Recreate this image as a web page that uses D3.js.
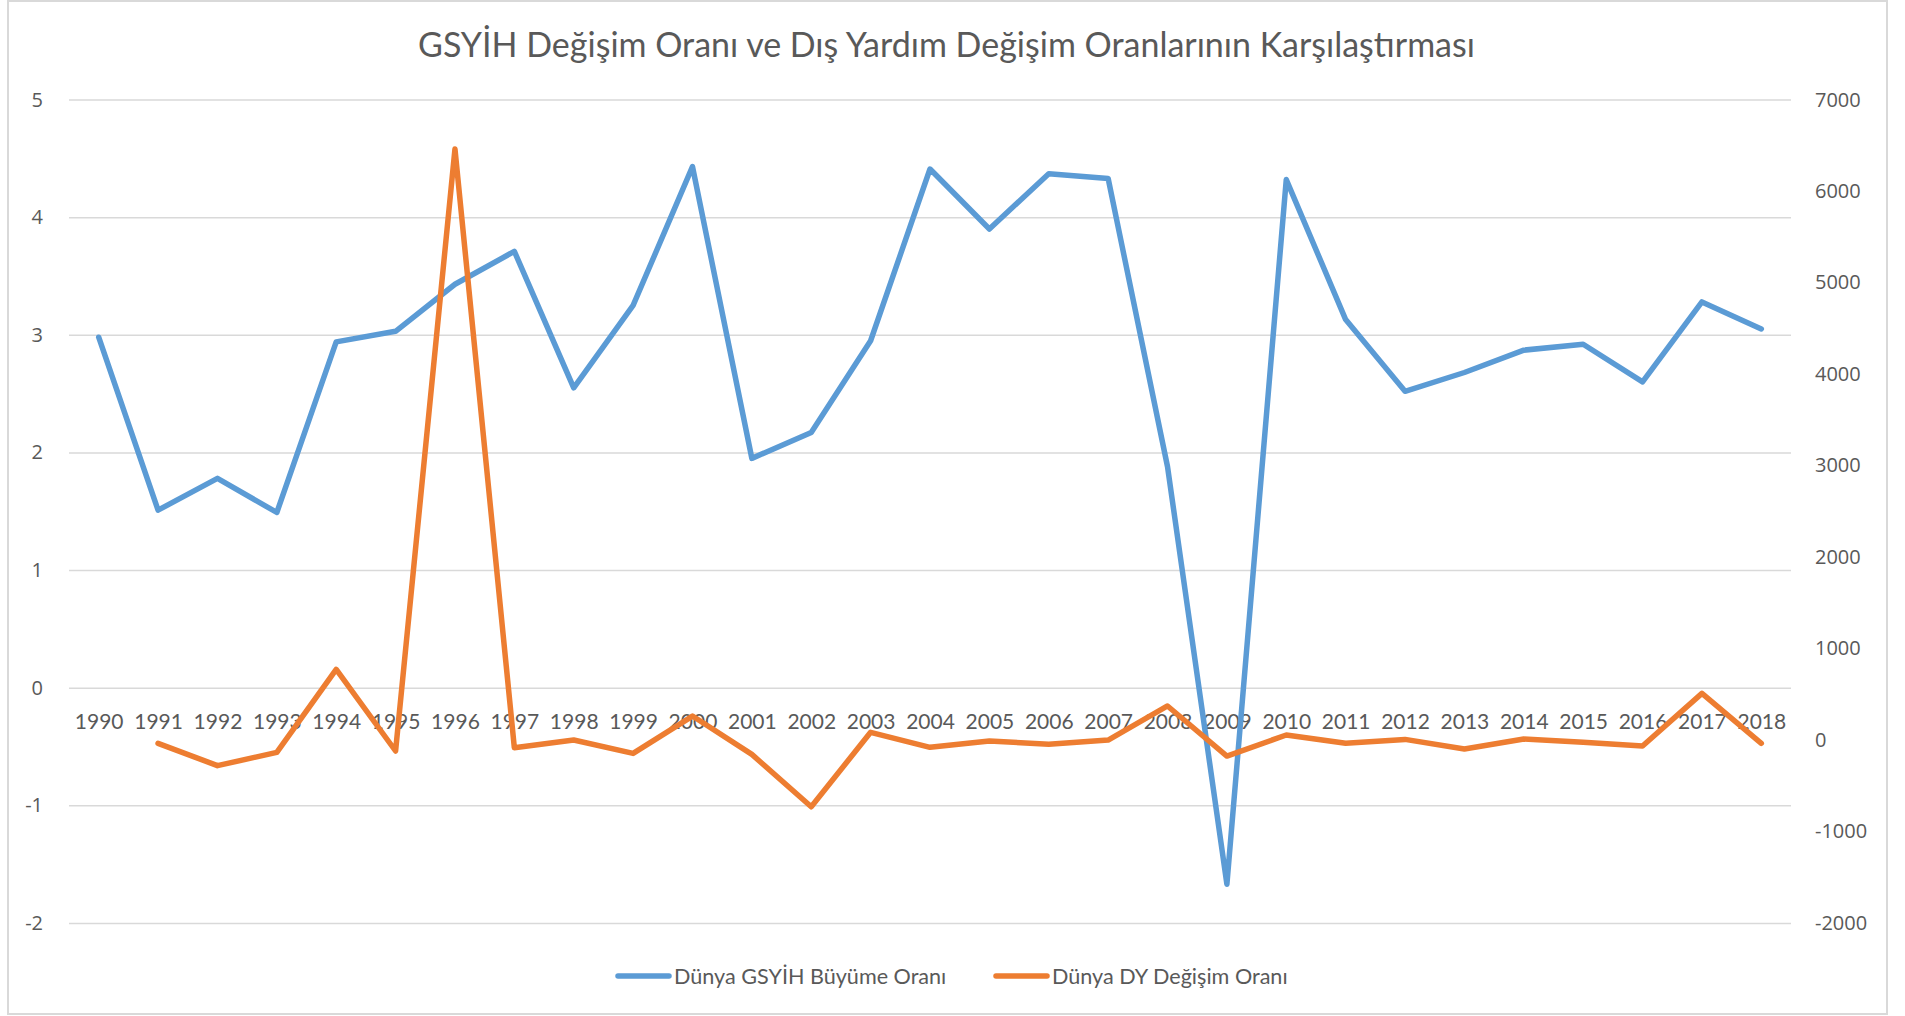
<!DOCTYPE html>
<html>
<head>
<meta charset="utf-8">
<title>GSYİH Değişim Oranı ve Dış Yardım Değişim Oranlarının Karşılaştırması</title>
<script src="https://cdn.jsdelivr.net/npm/d3@7"></script>
<style>
  html, body { margin: 0; padding: 0; background: #fff; }
  svg { display: block; }
</style>
</head>
<body>
<div id="chart"></div>
<script>
/* <!-- Data --> */
var years = ["1990","1991","1992","1993","1994","1995","1996","1997","1998","1999",
  "2000","2001","2002","2003","2004","2005","2006","2007","2008","2009",
  "2010","2011","2012","2013","2014","2015","2016","2017","2018"];

var gdpGrowth = [2.98, 1.51, 1.78, 1.49, 2.94, 3.03, 3.43, 3.71, 2.55, 3.25,
  4.43, 1.95, 2.17, 2.95, 4.41, 3.90, 4.37, 4.33, 1.88, -1.67,
  4.32, 3.13, 2.52, 2.68, 2.87, 2.92, 2.60, 3.28, 3.05];

var aidChange = [null, -36, -280, -135, 772, -120, 6460, -84, 0, -146,
  262, -157, -729, 84, -80, -11, -47, 0, 372, -175,
  55, -36, 7, -98, 11, -25, -66, 510, -36];

var leftTicks = [-2, -1, 0, 1, 2, 3, 4, 5];
var rightTicks = [-2000, -1000, 0, 1000, 2000, 3000, 4000, 5000, 6000, 7000];

var titleText = "GSYİH Değişim Oranı ve Dış Yardım Değişim Oranlarının Karşılaştırması";
var seriesNames = ["Dünya GSYİH Büyüme Oranı", "Dünya DY Değişim Oranı"];
var seriesColors = ["#5B9BD5", "#ED7D31"];

/* <!-- Layout --> */
var W = 1905, H = 1016,
  plot = { left: 69, right: 1791, top: 99.6, bottom: 923 },
  textColor = "#595959",
  gridColor = "#D9D9D9";

var svg = d3.select("#chart").append("svg")
  .attr("width", W).attr("height", H)
  .attr("viewBox", `0 0 ${W} ${H}`);

/* <!-- Chart frame --> */
svg.append("rect")
  .attr("x", 8).attr("y", 1)
  .attr("width", 1879).attr("height", 1013)
  .attr("fill", "#fff")
  .attr("stroke", gridColor).attr("stroke-width", 2);

/* <!-- Scales --> */
var x = d3.scalePoint().domain(years).range([plot.left, plot.right]).padding(0.5),
  yL = d3.scaleLinear().domain([-2, 5]).range([plot.bottom, plot.top]),
  yR = d3.scaleLinear().domain([-2000, 7000]).range([plot.bottom, plot.top]);

var numFormat = d => d3.format("")(d).replace("−", "-");

/* <!-- Gridlines --> */
svg.append("g")
  .attr("transform", `translate(${plot.left},0)`)
  .call(d3.axisLeft(yL).tickValues(leftTicks).tickSize(-(plot.right - plot.left)).tickFormat(""))
  .call(g => g.select(".domain").remove())
  .call(g => g.selectAll(".tick line").attr("stroke", gridColor).attr("stroke-width", 1.5));

/* <!-- Left axis labels --> */
svg.append("g")
  .attr("transform", `translate(${plot.left},0)`)
  .call(d3.axisLeft(yL).tickValues(leftTicks).tickSize(0).tickPadding(26).tickFormat(numFormat))
  .call(g => g.select(".domain").remove())
  .call(g => g.selectAll("text")
    .attr("fill", textColor)
    .style("font-family", "'Open Sans', sans-serif")
    .style("font-size", "20px"));

/* <!-- Right axis labels --> */
svg.append("g")
  .attr("transform", `translate(${plot.right},0)`)
  .call(d3.axisRight(yR).tickValues(rightTicks).tickSize(0).tickPadding(24).tickFormat(numFormat))
  .call(g => g.select(".domain").remove())
  .call(g => g.selectAll("text")
    .attr("fill", textColor)
    .style("font-family", "'Open Sans', sans-serif")
    .style("font-size", "20px"));

/* <!-- Category labels sit under the zero line of the left axis --> */
svg.append("g")
  .attr("transform", `translate(0,${yL(0)})`)
  .call(d3.axisBottom(x).tickSize(0).tickPadding(26))
  .call(g => g.select(".domain").remove())
  .call(g => g.selectAll("text")
    .attr("fill", textColor)
    .style("font-family", "Lato, sans-serif")
    .style("font-size", "21px"));

/* <!-- Lines --> */
var lineL = d3.line().x((d, i) => x(years[i])).y(d => yL(d)),
  lineR = d3.line().defined(d => d !== null).x((d, i) => x(years[i])).y(d => yR(d));

svg.append("path")
  .datum(gdpGrowth)
  .attr("d", lineL)
  .attr("fill", "none")
  .attr("stroke", seriesColors[0])
  .attr("stroke-width", 5.5)
  .attr("stroke-linejoin", "round")
  .attr("stroke-linecap", "round");

svg.append("path")
  .datum(aidChange)
  .attr("d", lineR)
  .attr("fill", "none")
  .attr("stroke", seriesColors[1])
  .attr("stroke-width", 5.5)
  .attr("stroke-linejoin", "round")
  .attr("stroke-linecap", "round");

/* <!-- Title --> */
svg.append("text")
  .attr("x", (419 + 1474) / 2)
  .attr("y", 57)
  .attr("text-anchor", "middle")
  .attr("fill", textColor)
  .style("font-family", "Lato, sans-serif")
  .style("font-size", "34px")
  .text(titleText);

/* <!-- Legend --> */
var legendX = [616, 994], legendY = 976;
var legend = svg.append("g").selectAll("g")
  .data(seriesNames)
  .enter().append("g")
  .attr("transform", (d, i) => `translate(${legendX[i]},${legendY})`);

legend.append("line")
  .attr("x1", 2).attr("x2", 53)
  .attr("stroke", (d, i) => seriesColors[i])
  .attr("stroke-width", 5.5)
  .attr("stroke-linecap", "round");

legend.append("text")
  .attr("x", 58)
  .attr("dy", "0.35em")
  .attr("fill", textColor)
  .style("font-family", "Lato, sans-serif")
  .style("font-size", "21.6px")
  .text(d => d);
</script>
</body>
</html>
